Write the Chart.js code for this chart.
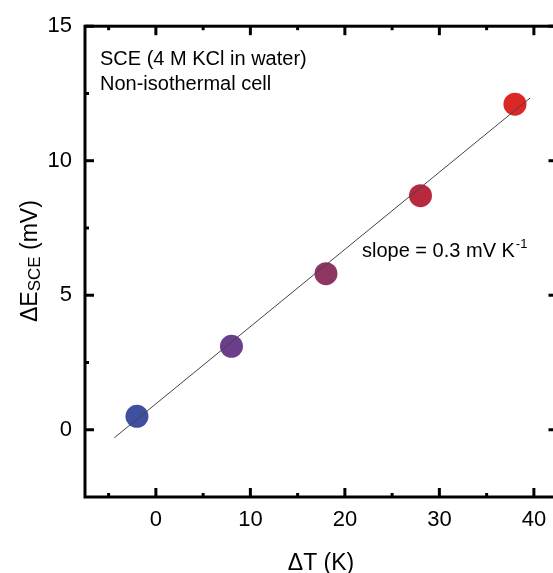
<!DOCTYPE html>
<html>
<head>
<meta charset="utf-8">
<script src="https://cdn.jsdelivr.net/npm/chart.js@4.4.1/dist/chart.umd.min.js"></script>
<style>
  html, body { margin: 0; padding: 0; background: #fff; overflow: hidden; }
  #wrap { width: 553px; height: 573px; overflow: hidden; }
</style>
</head>
<body>
<div id="wrap"><canvas id="chart" width="569" height="573"></canvas></div>
<script>
// measured points
const deltaT = [-2, 8, 18, 28, 38];
const deltaE = [0.5, 3.1, 5.8, 8.7, 12.1];
const pointColors = ['#3f50a0', '#6b3e8b', '#8e3561', '#b8293f', '#dc2727'];

// linear fit, end points
const fitT = [-4.4, 39.6];
const fitE = [-0.3, 12.33];

const xTicks = [0, 10, 20, 30, 40];
const xMinor = [-5, 5, 15, 25, 35];
const yTicks = [0, 5, 10, 15];
const yMinor = [2.5, 7.5, 12.5];

const FONT = '"Liberation Sans", Arial, sans-serif';

// frame with inward ticks on all four sides + text
const framePlugin = {
  id: 'frame',
  afterDraw(chart) {
    const c = chart.ctx, a = chart.chartArea;
    const xs = chart.scales.x, ys = chart.scales.y;
    c.save();
    c.strokeStyle = '#000';
    c.lineWidth = 3;
    c.lineCap = 'square';
    c.strokeRect(a.left, a.top, a.right - a.left, a.bottom - a.top);
    c.lineCap = 'butt';
    const tick = (x1, y1, x2, y2) => { c.beginPath(); c.moveTo(x1, y1); c.lineTo(x2, y2); c.stroke(); };
    xTicks.forEach(v => {
      const px = xs.getPixelForValue(v);
      tick(px, a.bottom, px, a.bottom - 9);
      tick(px, a.top, px, a.top + 9);
    });
    xMinor.forEach(v => {
      const px = xs.getPixelForValue(v);
      tick(px, a.bottom, px, a.bottom - 4);
      tick(px, a.top, px, a.top + 4);
    });
    yTicks.forEach(v => {
      const py = ys.getPixelForValue(v);
      tick(a.left, py, a.left + 9, py);
      tick(a.right, py, a.right - 9, py);
    });
    yMinor.forEach(v => {
      const py = ys.getPixelForValue(v);
      tick(a.left, py, a.left + 4, py);
      tick(a.right, py, a.right - 4, py);
    });

    c.fillStyle = '#000';
    c.textBaseline = 'alphabetic';
    c.textAlign = 'left';
    c.font = '20px ' + FONT;
    c.fillText('SCE (4 M KCl in water)', 100, 65);
    c.fillText('Non-isothermal cell', 100, 90);
    const s = 'slope = 0.3 mV K';
    c.fillText(s, 362, 257);
    const sw = c.measureText(s).width;
    c.font = '13px ' + FONT;
    c.fillText('-1', 362 + sw + 1, 248);

    // x title
    c.font = '23px ' + FONT;
    c.textAlign = 'center';
    c.fillText('ΔT (K)', 321, 570);

    // y title, rotated
    c.translate(37, 322);
    c.rotate(-Math.PI / 2);
    c.textAlign = 'left';
    let x = 0;
    c.font = '23px ' + FONT;
    c.fillText('ΔE', x, 0);
    x += c.measureText('ΔE').width;
    c.font = '17px ' + FONT;
    c.fillText('SCE', x, 3);
    x += c.measureText('SCE').width;
    c.font = '23px ' + FONT;
    c.fillText(' (mV)', x, 0);
    c.restore();
  }
};

new Chart(document.getElementById('chart'), {
  type: 'scatter',
  data: {
    datasets: [
      {
        type: 'line',
        data: fitT.map((t, i) => ({ x: t, y: fitE[i] })),
        borderColor: '#444',
        borderWidth: 1,
        pointRadius: 0,
        fill: false,
        order: 0
      },
      {
        data: deltaT.map((t, i) => ({ x: t, y: deltaE[i] })),
        backgroundColor: pointColors,
        borderWidth: 0,
        pointRadius: 11.5,
        order: 1
      }
    ]
  },
  options: {
    responsive: false,
    animation: false,
    devicePixelRatio: 1,
    layout: { padding: { left: 0, top: 23, right: 3, bottom: 0 } },
    plugins: { legend: { display: false }, tooltip: { enabled: false } },
    scales: {
      x: {
        type: 'linear',
        min: -7.5,
        max: 42.5,
        grid: { display: false, drawTicks: false },
        border: { display: false },
        afterBuildTicks: s => { s.ticks = xTicks.map(v => ({ value: v })); },
        afterFit: s => { s.height = 76; },
        ticks: { color: '#000', font: { family: FONT, size: 22 }, padding: 10, maxRotation: 0 }
      },
      y: {
        type: 'linear',
        min: -2.5,
        max: 15,
        grid: { display: false, drawTicks: false },
        border: { display: false },
        afterBuildTicks: s => { s.ticks = yTicks.map(v => ({ value: v })); },
        afterFit: s => { s.width = 85; },
        ticks: { color: '#000', font: { family: FONT, size: 22 }, padding: 13 }
      }
    }
  },
  plugins: [framePlugin]
});
</script>
</body>
</html>
